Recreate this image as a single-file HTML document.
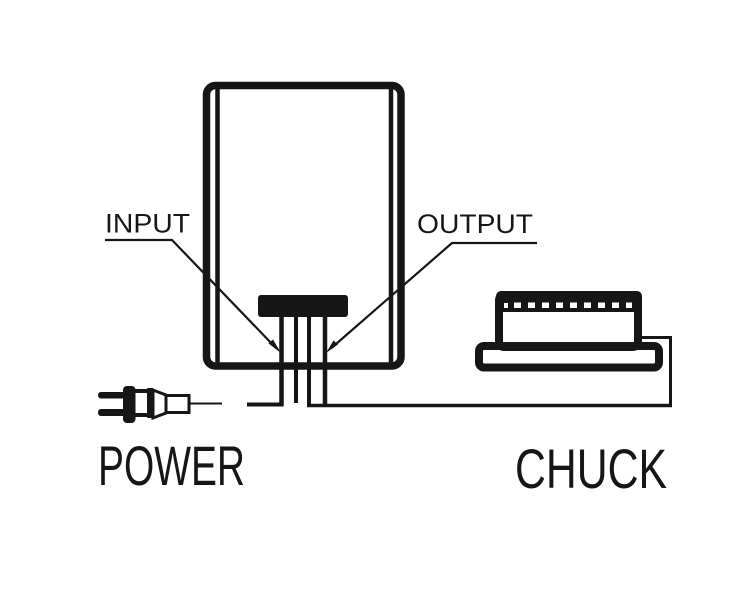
<!DOCTYPE html>
<html><head><meta charset="utf-8"><style>
html,body{margin:0;padding:0;background:#fff;}
svg{display:block;}
text{font-family:"Liberation Sans",sans-serif;fill:#161616;}
</style></head><body>
<svg width="740" height="596" viewBox="0 0 740 596" xmlns="http://www.w3.org/2000/svg">
<rect width="740" height="596" fill="#fff"/>
<g stroke="#161616" fill="none">
  <!-- main box -->
  <rect x="206.5" y="85.5" width="194.5" height="280.5" rx="9" stroke-width="7.5"/>
  <line x1="217.5" y1="86" x2="217.5" y2="366" stroke-width="4.5"/>
  <line x1="391" y1="86" x2="391" y2="366" stroke-width="4.5"/>
  <!-- legs -->
  <line x1="281.5" y1="316" x2="281.5" y2="406" stroke-width="4.5"/>
  <line x1="296" y1="316" x2="296" y2="403" stroke-width="4"/>
  <line x1="309" y1="316" x2="309" y2="407" stroke-width="4"/>
  <line x1="325" y1="316" x2="325" y2="406" stroke-width="4.5"/>
  <line x1="247" y1="404.5" x2="283.5" y2="404.5" stroke-width="4"/>
  <line x1="307" y1="405.5" x2="672" y2="405.5" stroke-width="3.5"/>
  <line x1="670.5" y1="337" x2="670.5" y2="407" stroke-width="3"/>
  <line x1="642" y1="337.5" x2="672" y2="337.5" stroke-width="3"/>
  <!-- power cord -->
  <line x1="188" y1="403.5" x2="222" y2="403.5" stroke-width="2"/>
  <!-- leaders -->
  <polyline points="105,240 172,240 274,346" stroke-width="2.2"/>
  <polyline points="537,243 452,243 332,347.5" stroke-width="2.2"/>
  <!-- chuck -->
  <rect x="479" y="346" width="180" height="21.5" rx="5" stroke-width="8"/>
  <rect x="499" y="295" width="139" height="52" rx="5" stroke-width="8"/>
  <!-- plug outline parts -->
  <polygon points="153,390 166,395 166,413 153,418" stroke-width="3" fill="#fff"/>
  <rect x="166" y="395.5" width="23" height="17" stroke-width="3" fill="#fff"/>
</g>
<g fill="#161616">
  <rect x="258" y="295" width="90" height="22" rx="3"/>
  <!-- arrowheads -->
  <polygon points="281,353 268.5,343.5 273,339.5"/>
  <polygon points="326,353 333.5,340.5 338,344.5"/>
  <!-- chuck top band -->
  <rect x="496" y="291" width="146" height="21" rx="5"/>
  <!-- plug -->
  <rect x="98" y="392" width="29" height="6.5" rx="3"/>
  <rect x="98" y="409" width="29" height="7" rx="3"/>
  <rect x="123" y="386" width="12.5" height="37" rx="4"/>
  <rect x="135" y="389" width="12" height="4"/>
  <rect x="135" y="413" width="12" height="4"/>
  <rect x="147" y="388" width="6.5" height="30" rx="1"/>
</g>
<g fill="#fff">
  <rect x="504" y="303" width="4" height="5"/>
  <rect x="514" y="302.5" width="7" height="5.5"/>
  <rect x="528" y="302.5" width="7" height="5.5"/>
  <rect x="542" y="302.5" width="7" height="5.5"/>
  <rect x="556" y="302.5" width="7" height="5.5"/>
  <rect x="570" y="302.5" width="7" height="5.5"/>
  <rect x="584" y="302.5" width="7" height="5.5"/>
  <rect x="598" y="302.5" width="7" height="5.5"/>
  <rect x="612" y="302.5" width="7" height="5.5"/>
  <rect x="626" y="302.5" width="6" height="5.5"/>
</g>
<text x="105" y="232.5" font-size="26.5" textLength="85" lengthAdjust="spacingAndGlyphs">INPUT</text>
<text x="417" y="233" font-size="26.5" textLength="116" lengthAdjust="spacingAndGlyphs">OUTPUT</text>
<text x="98" y="485" font-size="56" textLength="147" lengthAdjust="spacingAndGlyphs">POWER</text>
<text x="515" y="488" font-size="56" textLength="152" lengthAdjust="spacingAndGlyphs">CHUCK</text>
</svg>
</body></html>
